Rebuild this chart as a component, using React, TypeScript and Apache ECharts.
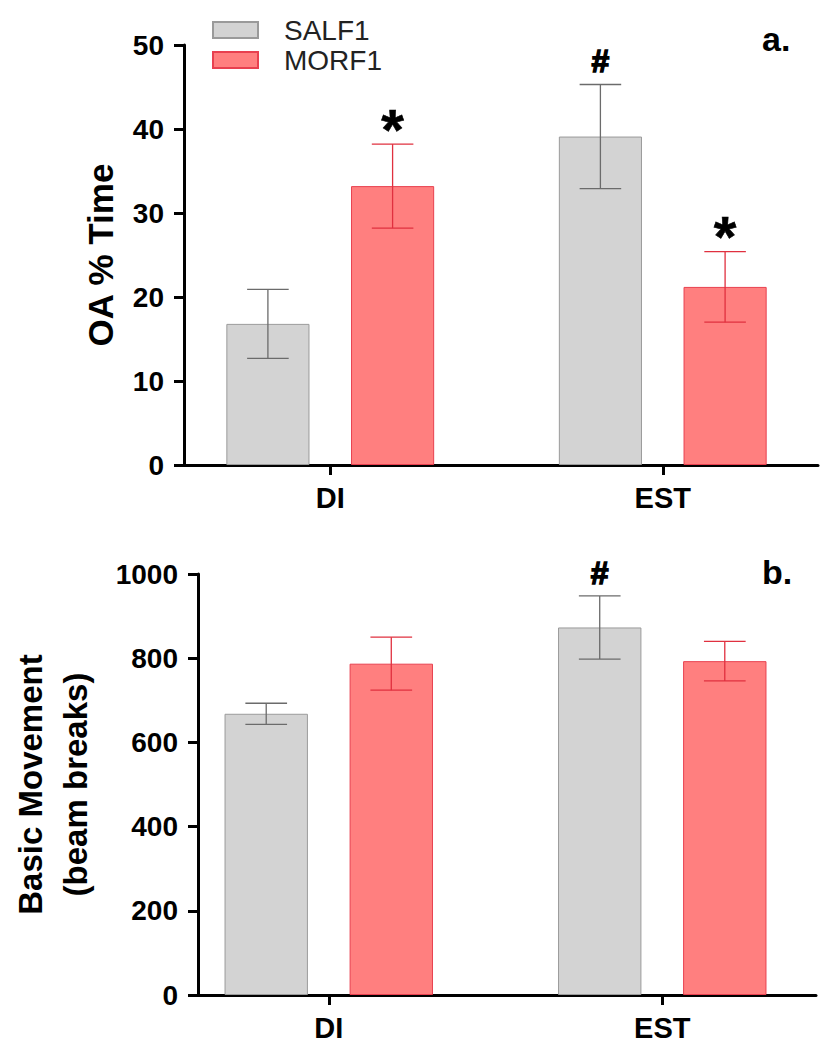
import React, { useEffect, useRef } from 'react';
import * as echarts from 'echarts';

const categories = ['DI', 'EST'];
const seriesNames = ['SALF1', 'MORF1'];

// Panel a: OA % Time (mean, SEM)
const oaSalfMean = [16.8, 39.1];
const oaSalfSem = [4.1, 6.2];
const oaMorfMean = [33.2, 21.2];
const oaMorfSem = [5.0, 4.2];
const oaSalfSig = ['', '#'];
const oaMorfSig = ['*', '*'];
const oaTickValues = [0, 10, 20, 30, 40, 50];

// Panel b: Basic Movement (mean, SEM)
const bmSalfMean = [668, 873];
const bmSalfSem = [25, 75];
const bmMorfMean = [787, 793];
const bmMorfSem = [63, 47];
const bmSalfSig = ['', '#'];
const bmMorfSig = ['', ''];
const bmTickValues = [0, 200, 400, 600, 800, 1000];

const FONT = 'Liberation Sans, Arial, Helvetica, sans-serif';
const GRAY_FILL = '#d3d3d3';
const GRAY_EDGE = '#9a9a9a';
const GRAY_ERR = '#6b6b6b';
const RED_FILL = '#ff7f7f';
const RED_EDGE = '#e8404f';
const RED_ERR = '#e0303f';

const sigStyle: Record<string, { size: number; dy: number; stroke: number }> = {
  '*': { size: 58, dy: -14, stroke: 0.6 },
  '#': { size: 32, dy: 7, stroke: 1.4 },
};

function errorSeries(
  means: number[],
  sems: number[],
  sigs: string[],
  side: number,
  axisIndex: number,
  color: string
) {
  return {
    type: 'custom',
    xAxisIndex: axisIndex,
    yAxisIndex: axisIndex,
    silent: true,
    clip: false,
    z: 5,
    data: means.map((m, i) => [i, m]),
    encode: { x: 0, y: 1 },
    renderItem: (params: any, api: any) => {
      const i = params.dataIndex;
      const band = api.size([1, 0])[0];
      const cx = api.coord([i, means[i]])[0] + side * band * 0.1875;
      const yt = api.coord([i, means[i] + sems[i]])[1];
      const yb = api.coord([i, means[i] - sems[i]])[1];
      const hw = band * 0.0625;
      const ls = { stroke: color, lineWidth: 1.3 };
      const children: any[] = [
        { type: 'line', shape: { x1: cx, y1: yt, x2: cx, y2: yb }, style: ls },
        { type: 'line', shape: { x1: cx - hw, y1: yt, x2: cx + hw, y2: yt }, style: ls },
        { type: 'line', shape: { x1: cx - hw, y1: yb, x2: cx + hw, y2: yb }, style: ls },
      ];
      const s = sigs[i];
      if (s) {
        const st = sigStyle[s] || { size: 30, dy: 6, stroke: 0 };
        children.push({
          type: 'text',
          style: {
            text: s,
            x: cx,
            y: yt - st.dy,
            align: 'center',
            verticalAlign: 'bottom',
            fill: '#000',
            stroke: '#000',
            lineWidth: st.stroke,
            font: `bold ${st.size}px ${FONT}`,
          },
        });
      }
      return { type: 'group', children };
    },
  };
}

const axisLabelStyle = { color: '#000', fontFamily: FONT, fontWeight: 'bold' as const, fontSize: 28 };

function buildOption() {
  const tops = [45, 574];
  const heights = [420, 421];
  const barGrids = [
    { left: 164, width: 672 },
    { left: 162, width: 673 },
  ];
  const frameGrids = [
    { left: 184, width: 634 },
    { left: 182, width: 634 },
  ];
  const grid: any[] = [];
  [0, 1].forEach((p) => {
    grid.push({ left: barGrids[p].left, width: barGrids[p].width, top: tops[p], height: heights[p] });
  });
  [0, 1].forEach((p) => {
    grid.push({ left: frameGrids[p].left, width: frameGrids[p].width, top: tops[p], height: heights[p] });
  });

  const ticks = [oaTickValues, bmTickValues];
  const names = ['OA % Time', 'Basic Movement\n(beam breaks)'];
  const xAxis: any[] = [];
  const yAxis: any[] = [];
  [0, 1].forEach((p) => {
    xAxis.push({
      type: 'category',
      gridIndex: p,
      data: categories,
      axisLine: { show: false },
      axisTick: { show: true, alignWithLabel: true, length: 10, lineStyle: { color: '#000', width: 3 } },
      axisLabel: { ...axisLabelStyle, margin: 18, fontSize: 29 },
      splitLine: { show: false },
    });
    yAxis.push({
      type: 'value',
      gridIndex: p,
      show: false,
      min: ticks[p][0],
      max: ticks[p][ticks[p].length - 1],
      interval: ticks[p][1] - ticks[p][0],
    });
  });
  [0, 1].forEach((p) => {
    xAxis.push({
      type: 'category',
      gridIndex: 2 + p,
      data: categories,
      axisLine: { show: true, lineStyle: { color: '#000', width: 3 } },
      axisTick: { show: false },
      axisLabel: { show: false },
      splitLine: { show: false },
    });
    yAxis.push({
      type: 'value',
      gridIndex: 2 + p,
      min: ticks[p][0],
      max: ticks[p][ticks[p].length - 1],
      interval: ticks[p][1] - ticks[p][0],
      name: names[p],
      nameLocation: 'middle',
      nameGap: p === 0 ? 64 : 100,
      nameMoveOverlap: false,
      nameTextStyle: {
        color: '#000',
        fontFamily: FONT,
        fontWeight: 'bold',
        fontSize: p === 0 ? 35 : 33,
        lineHeight: p === 0 ? 40 : 45,
      },
      axisLine: { show: true, lineStyle: { color: '#000', width: 3 } },
      axisTick: { show: true, length: 10, lineStyle: { color: '#000', width: 3 } },
      axisLabel: { ...axisLabelStyle, margin: 20, formatter: (v: number) => String(v) },
      splitLine: { show: false },
    });
  });

  const series: any[] = [
    {
      type: 'bar', name: seriesNames[0], xAxisIndex: 0, yAxisIndex: 0, data: oaSalfMean,
      barWidth: '25%', barGap: '50%',
      itemStyle: { color: GRAY_FILL, borderColor: GRAY_EDGE, borderWidth: 1 },
    },
    {
      type: 'bar', name: seriesNames[1], xAxisIndex: 0, yAxisIndex: 0, data: oaMorfMean,
      barWidth: '25%', barGap: '50%',
      itemStyle: { color: RED_FILL, borderColor: RED_EDGE, borderWidth: 1 },
    },
    {
      type: 'bar', name: seriesNames[0], xAxisIndex: 1, yAxisIndex: 1, data: bmSalfMean,
      barWidth: '25%', barGap: '50%',
      itemStyle: { color: GRAY_FILL, borderColor: GRAY_EDGE, borderWidth: 1 },
    },
    {
      type: 'bar', name: seriesNames[1], xAxisIndex: 1, yAxisIndex: 1, data: bmMorfMean,
      barWidth: '25%', barGap: '50%',
      itemStyle: { color: RED_FILL, borderColor: RED_EDGE, borderWidth: 1 },
    },
    errorSeries(oaSalfMean, oaSalfSem, oaSalfSig, -1, 0, GRAY_ERR),
    errorSeries(oaMorfMean, oaMorfSem, oaMorfSig, 1, 0, RED_ERR),
    errorSeries(bmSalfMean, bmSalfSem, bmSalfSig, -1, 1, GRAY_ERR),
    errorSeries(bmMorfMean, bmMorfSem, bmMorfSig, 1, 1, RED_ERR),
  ];

  return {
    animation: false,
    backgroundColor: '#fff',
    legend: {
      data: seriesNames,
      orient: 'vertical',
      left: 212,
      top: 16,
      padding: 0,
      itemWidth: 45,
      itemHeight: 16,
      itemGap: 2,
      icon: 'rect',
      selectedMode: false,
      textStyle: { color: '#222', fontFamily: FONT, fontSize: 28, padding: [0, 0, 0, 21] },
    },
    grid,
    xAxis,
    yAxis,
    series,
    graphic: [
      { type: 'text', left: 762, top: 22, style: { text: 'a.', fill: '#000', font: `bold 34px ${FONT}` } },
      { type: 'text', left: 762, top: 555, style: { text: 'b.', fill: '#000', font: `bold 34px ${FONT}` } },
    ],
  };
}

export default function App() {
  const ref = useRef<HTMLDivElement>(null);
  useEffect(() => {
    document.body.style.margin = '0';
    if (!ref.current) return;
    const chart = echarts.init(ref.current, undefined, { renderer: 'svg' });
    chart.setOption(buildOption() as any);
    return () => chart.dispose();
  }, []);
  return <div ref={ref} style={{ width: 829, height: 1050 }} />;
}
